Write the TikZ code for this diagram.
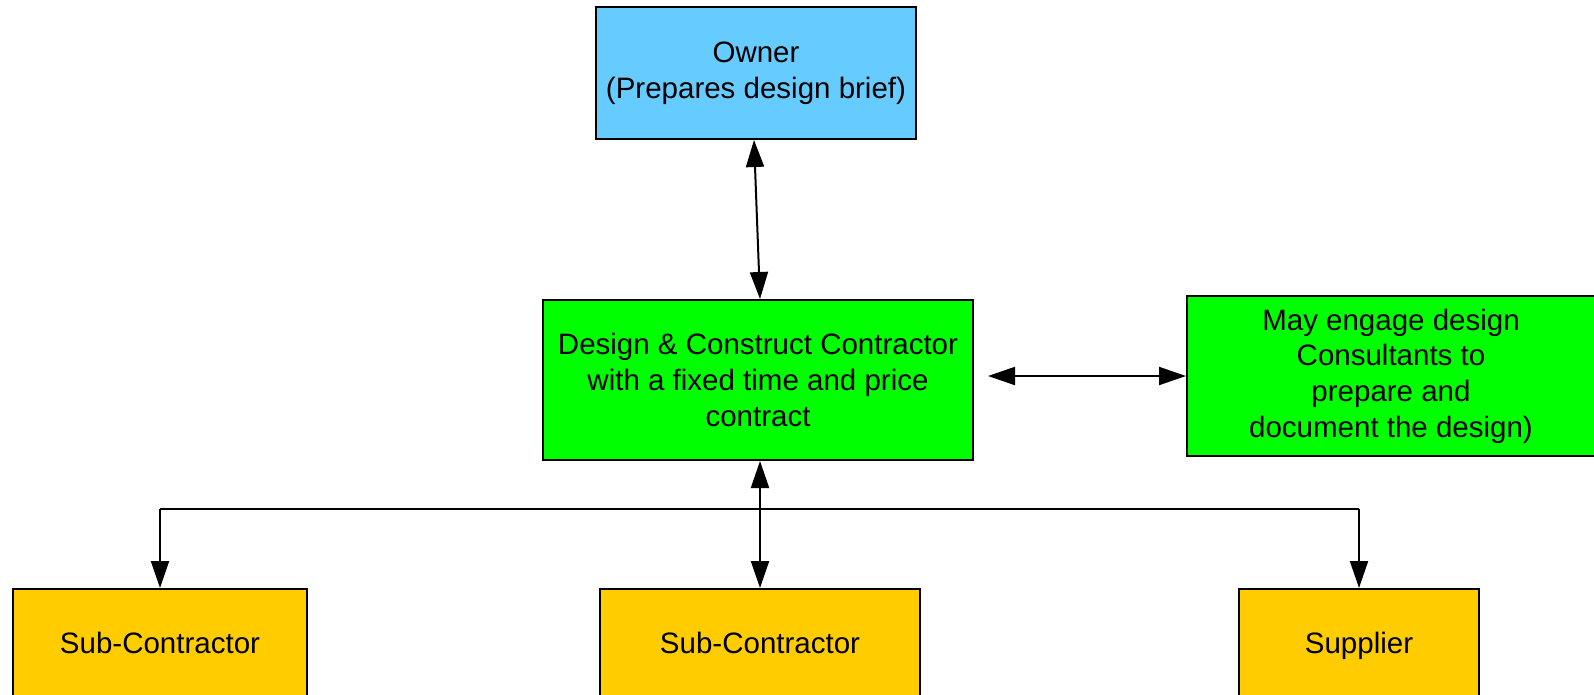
\documentclass[tikz,border=0pt]{standalone}
\usepackage{fontspec}
\setmainfont{Liberation Sans}
\usetikzlibrary{arrows.meta}
\definecolor{ownerblue}{HTML}{66CCFF}
\definecolor{boxgreen}{HTML}{00FF00}
\definecolor{boxorange}{HTML}{FFCC00}
\begin{document}
\begin{tikzpicture}[x=1pt,y=-1pt,
  box/.style={draw=black, line width=2pt, inner sep=0pt, align=center,
    font=\fontsize{29.5}{35.6}\selectfont},
  lowbox/.style={box, fill=boxorange, minimum height=108pt, text height=21.5pt, text depth=0pt},
  conn/.style={line width=2pt, draw=black},
  tipa/.tip={Triangle[length=27pt,width=18pt]}]
\useasboundingbox (0,0) rectangle (1594,694);
\clip (0,0) rectangle (1594,694);
\node[box, fill=ownerblue, minimum width=320pt, minimum height=132pt] (owner) at (756,73) {Owner\\(Prepares design brief)};
\node[box, fill=boxgreen, minimum width=430pt, minimum height=160pt] (main) at (758,380) {Design \& Construct Contractor\\with a fixed time and price\\contract};
\node[box, fill=boxgreen, minimum width=408pt, minimum height=160pt] (consult) at (1391,376) {May engage design\\Consultants to\\prepare and\\document the design)};
\node[lowbox, minimum width=294pt] (sub1) at (160,643) {Sub-Contractor};
\node[lowbox, minimum width=320pt] (sub2) at (760,643) {Sub-Contractor};
\node[lowbox, minimum width=240pt] (sup) at (1359,643) {Supplier};
\coordinate (bus) at (760,509);
\draw[conn, tipa-tipa] ([xshift=-2pt]owner.south) -- ([xshift=2pt]main.north);
\draw[conn, tipa-tipa] ([xshift=14pt]main.east |- consult.west) -- (consult.west);
\draw[conn, tipa-tipa] (main.south -| sub2.north) -- (sub2.north);
\draw[conn] (sub1.north |- bus) -- (sup.north |- bus);
\draw[conn, -tipa] (sub1.north |- bus) -- (sub1.north);
\draw[conn, -tipa] (sup.north |- bus) -- (sup.north);
\end{tikzpicture}
\end{document}
